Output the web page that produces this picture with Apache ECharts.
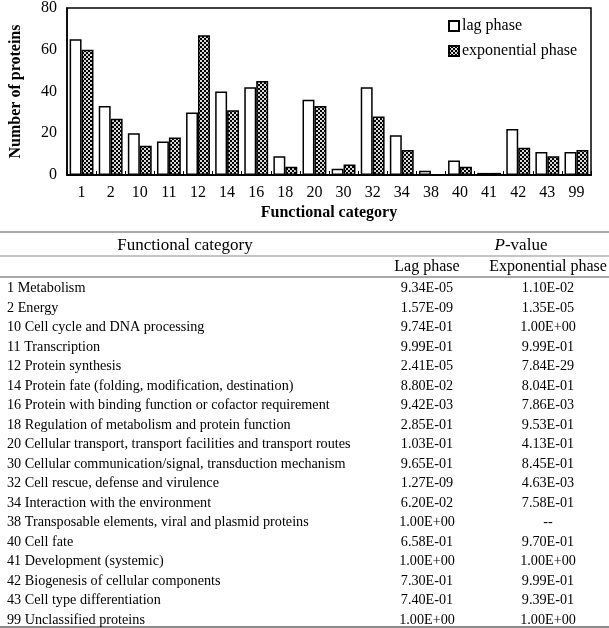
<!DOCTYPE html>
<html>
<head>
<meta charset="utf-8">
<script src="https://cdn.jsdelivr.net/npm/echarts@6/dist/echarts.min.js"></script>
<style>
html,body{margin:0;padding:0;background:#fff;}
#chart{width:609px;height:628px;}
</style>
</head>
<body>
<div id="chart"></div>
<script>
// ---- chart data ----
const categories = ['1','2','10','11','12','14','16','18','20','30','32','34','38','40','41','42','43','99'];
const lagCounts = [65,33,20,16,30,40,42,9,36,3,42,19,2,7,1,22,11,11];
const expCounts = [60,27,14,18,67,31,45,4,33,5,28,12,0,4,1,13,9,12];
const yTicks = [0,20,40,60,80];
const seriesNames = ['lag phase','exponential phase'];

// ---- table data ----
const tableCategories = [
  '1 Metabolism',
  '2 Energy',
  '10 Cell cycle and DNA processing',
  '11 Transcription',
  '12 Protein synthesis',
  '14 Protein fate (folding, modification, destination)',
  '16 Protein with binding function or cofactor requirement',
  '18 Regulation of metabolism and protein function',
  '20 Cellular transport, transport facilities and transport routes',
  '30 Cellular communication/signal, transduction mechanism',
  '32 Cell rescue, defense and virulence',
  '34 Interaction with the environment',
  '38 Transposable elements, viral and plasmid proteins',
  '40 Cell fate',
  '41 Development (systemic)',
  '42 Biogenesis of cellular components',
  '43 Cell type differentiation',
  '99 Unclassified proteins'
];
const lagP = ['9.34E-05','1.57E-09','9.74E-01','9.99E-01','2.41E-05','8.80E-02','9.42E-03','2.85E-01','1.03E-01','9.65E-01','1.27E-09','6.20E-02','1.00E+00','6.58E-01','1.00E+00','7.30E-01','7.40E-01','1.00E+00'];
const expP = ['1.10E-02','1.35E-05','1.00E+00','9.99E-01','7.84E-29','8.04E-01','7.86E-03','9.53E-01','4.13E-01','8.45E-01','4.63E-03','7.58E-01','--','9.70E-01','1.00E+00','9.99E-01','9.39E-01','1.00E+00'];
const tableHeader = ['Functional category','P-value','Lag phase','Exponential phase'];

const SERIF = "'Liberation Serif', 'Times New Roman', serif";

// pattern for exponential phase bars
const pc = document.createElement('canvas');
pc.width = 4; pc.height = 4;
const pctx = pc.getContext('2d');
pctx.fillStyle = '#000'; pctx.fillRect(0,0,4,4);
pctx.fillStyle = '#d8d8d8';
pctx.fillRect(0,0,2,2);
pctx.fillRect(2,2,2,2);
const expPattern = {image: pc, repeat: 'repeat'};

const chart = echarts.init(document.getElementById('chart'), null, {renderer:'canvas'});

// table graphics
const graphics = [];
const lineColor = '#8c8c8c';
function hline(y, x1, x2, w){
  graphics.push({type:'line', silent:true, shape:{x1:x1, y1:y, x2:x2, y2:y}, style:{stroke:lineColor, lineWidth:w}});
}
hline(232, 0, 609, 1.5);
hline(256, 0, 609, 1.2);
hline(277, 0, 609, 1.5);
hline(627, 0, 609, 2);

function txt(t, x, y, align, size){
  graphics.push({type:'text', silent:true, style:{
    text:t, x:x, y:y, fill:'#000',
    font: 'normal normal ' + size + 'px ' + SERIF,
    align:align, verticalAlign:'middle'
  }});
}
txt(tableHeader[0], 185, 246, 'center', 17);
graphics.push({type:'text', silent:true, style:{
  text:'{i|P}{n|-value}', x:521, y:246, align:'center', verticalAlign:'middle', fill:'#000',
  font: 'normal normal 17px ' + SERIF,
  rich:{i:{fontStyle:'italic', fontWeight:'normal', fontFamily:SERIF, fontSize:17, fill:'#000'},
        n:{fontStyle:'normal', fontWeight:'normal', fontFamily:SERIF, fontSize:17, fill:'#000'}}
}});
txt(tableHeader[2], 427, 267, 'center', 16);
txt(tableHeader[3], 548, 267, 'center', 16);

tableCategories.forEach(function(c, i){
  const y = 288.5 + 19.5 * i;
  txt(c, 7, y, 'left', 14.2);
  txt(lagP[i], 427, y, 'center', 14.2);
  txt(expP[i], 548, y, 'center', 14.2);
});

const option = {
  animation: false,
  backgroundColor: '#fff',
  textStyle: {fontFamily: SERIF},
  grid: {left:63, top:5, width:528, height:170, show:true, borderColor:'#000', borderWidth:1.5, backgroundColor:'transparent'},
  legend: {
    orient:'vertical', left:443, top:13, itemWidth:10, itemHeight:10, itemGap:9,
    data: seriesNames.map(function(n){return {name:n, icon:'rect'};}),
    textStyle:{fontFamily:SERIF, fontSize:16, fontWeight:'normal', color:'#000', padding:[0,0,0,-2]}
  },
  xAxis: {
    type:'category', data:categories,
    name:'Functional category', nameLocation:'middle', nameGap:30,
    nameTextStyle:{fontFamily:SERIF, fontSize:16, fontWeight:'bold', color:'#000'},
    axisLine:{show:true, lineStyle:{color:'#000', width:2}},
    axisTick:{show:true, inside:true, length:4, interval:0, lineStyle:{color:'#000', width:1}},
    axisLabel:{interval:0, fontFamily:SERIF, fontSize:16, fontWeight:'normal', color:'#000', margin:10},
    splitLine:{show:false}
  },
  yAxis: {
    type:'value', min:yTicks[0], max:yTicks[yTicks.length-1], interval:yTicks[1]-yTicks[0],
    name:'Number of proteins', nameLocation:'middle', nameGap:43,
    nameTextStyle:{fontFamily:SERIF, fontSize:16, fontWeight:'bold', color:'#000'},
    axisLine:{show:true, lineStyle:{color:'#000', width:1.5}},
    axisTick:{show:false},
    axisLabel:{fontFamily:SERIF, fontSize:16, fontWeight:'normal', color:'#000', margin:10},
    splitLine:{show:false}
  },
  series: [
    {name:seriesNames[0], type:'bar', data:lagCounts, barGap:'0%', barCategoryGap:'18%',
     itemStyle:{color:'#fff', borderColor:'#000', borderWidth:1.5}},
    {name:seriesNames[1], type:'bar', data:expCounts, barGap:'0%', barCategoryGap:'18%',
     itemStyle:{color:expPattern, borderColor:'#000', borderWidth:1.5}}
  ],
  graphic: graphics
};
chart.setOption(option);
</script>
</body>
</html>
